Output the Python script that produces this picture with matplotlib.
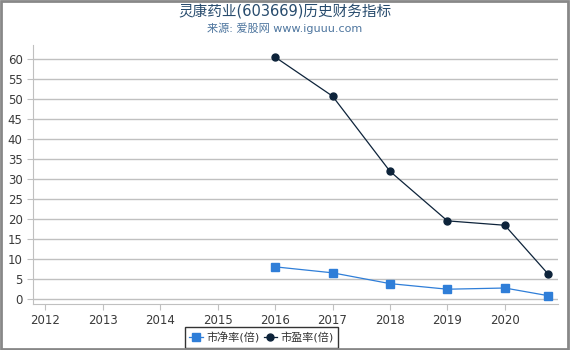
import matplotlib
matplotlib.use('Agg')
import matplotlib.pyplot as plt
import matplotlib.dates as mdates
from matplotlib.patches import Rectangle
import pandas as pd

plt.rcParams['font.family'] = ['DejaVu Sans', 'Noto Sans CJK SC']

# data
dates = ['2016-01-01', '2017-01-01', '2018-01-01', '2019-01-01', '2020-01-01', '2020-09-30']
pb = [8.1, 6.6, 3.9, 2.5, 2.8, 0.9]        # 市净率(倍)
pe = [60.6, 50.8, 32.0, 19.6, 18.5, 6.4]   # 市盈率(倍)
year_ticks = [str(y) for y in range(2012, 2021)]
y_ticks = list(range(0, 61, 5))

title = '灵康药业(603669)历史财务指标'
subtitle = '来源: 爱股网 www.iguuu.com'

x = pd.to_datetime(dates)

fig = plt.figure(figsize=(5.7, 3.5), dpi=100)
ax = fig.add_axes([33 / 570, 46 / 350, 525 / 570, 259 / 350])

ax.plot(x, pb, color='#2f7ed8', lw=0.9, marker='s', ms=5.5, label='市净率(倍)', zorder=3)
ax.plot(x, pe, color='#0d233a', lw=0.9, marker='o', ms=5, label='市盈率(倍)', zorder=3)

ax.set_xlim(pd.Timestamp('2011-10-16'), pd.Timestamp('2020-12-04'))
ax.set_ylim(-1.2, 63.6)

ax.set_xticks(pd.to_datetime([y + '-01-01' for y in year_ticks]))
ax.xaxis.set_major_formatter(mdates.DateFormatter('%Y'))
ax.set_yticks(y_ticks)

ax.grid(axis='y', color='#c0c0c0', lw=1)
ax.set_axisbelow(True)
for s in ['top', 'right']:
    ax.spines[s].set_visible(False)
ax.spines['left'].set_color('#c0c0c0')
ax.spines['bottom'].set_color('#c0c0c0')
ax.tick_params(axis='both', colors='#c0c0c0', labelcolor='#3a3a3a', labelsize=8.5, length=4)

fig.text(0.5, 1 - 11 / 350, title, ha='center', va='center', fontsize=10.5, color='#274b6d')
fig.text(0.5, 1 - 28.5 / 350, subtitle, ha='center', va='center', fontsize=8, color='#4d759e')

leg = ax.legend(loc='center', bbox_to_anchor=(261.5 / 570, 12.5 / 350), bbox_transform=fig.transFigure,
                ncol=2, fontsize=8, frameon=True, fancybox=False, handlelength=1.2,
                handletextpad=0.3, columnspacing=0.4, borderpad=0.4, labelcolor='#333333')
leg.get_frame().set_edgecolor('black')
leg.get_frame().set_linewidth(1)

fig.patches.append(Rectangle((0.001, 0.002), 0.996, 0.995, transform=fig.transFigure,
                             fill=False, edgecolor='#888888', lw=2))

fig.savefig('out.png', dpi=100)
